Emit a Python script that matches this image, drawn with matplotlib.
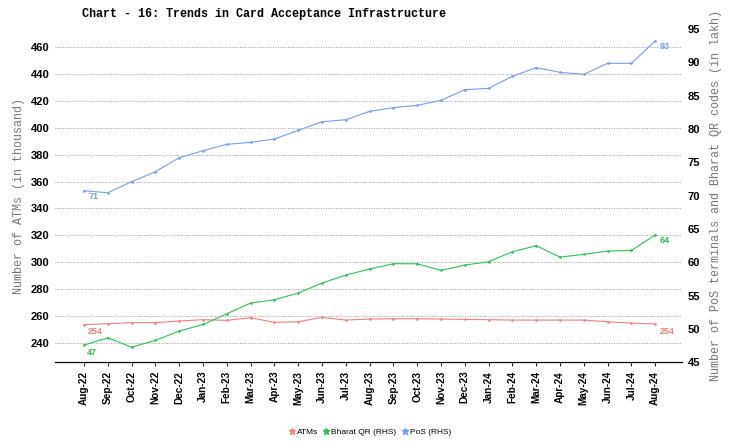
import matplotlib
matplotlib.use("Agg")
import matplotlib.pyplot as plt
from matplotlib.lines import Line2D

months = ["Aug-22", "Sep-22", "Oct-22", "Nov-22", "Dec-22", "Jan-23", "Feb-23", "Mar-23",
          "Apr-23", "May-23", "Jun-23", "Jul-23", "Aug-23", "Sep-23", "Oct-23", "Nov-23",
          "Dec-23", "Jan-24", "Feb-24", "Mar-24", "Apr-24", "May-24", "Jun-24", "Jul-24", "Aug-24"]
atms = [253.6, 254.3, 255.1, 255.1, 256.3, 257.3, 256.8, 258.8, 255.3, 255.8, 259.0, 257.0,
        257.8, 258.0, 258.0, 257.8, 257.5, 257.3, 257.0, 257.0, 257.0, 257.0, 255.8, 254.8, 254.1]
bharat_qr = [47.6, 48.7, 47.3, 48.3, 49.7, 50.7, 52.3, 53.9, 54.4, 55.4, 56.9, 58.1, 59.0,
             59.8, 59.8, 58.8, 59.6, 60.1, 61.6, 62.5, 60.8, 61.2, 61.7, 61.8, 64.1]
pos = [70.74, 70.45, 72.1, 73.6, 75.7, 76.75, 77.7, 78.0, 78.5, 79.8, 81.1, 81.4, 82.65,
       83.2, 83.55, 84.3, 85.9, 86.1, 87.9, 89.2, 88.5, 88.2, 89.85, 89.85, 93.2]

left_ticks = [240, 260, 280, 300, 320, 340, 360, 380, 400, 420, 440, 460]
right_ticks = [45, 50, 55, 60, 65, 70, 75, 80, 85, 90, 95]

c_atm = "#f47f7f"
c_qr = "#2ec150"
c_pos = "#6f9ef2"

fig = plt.figure(figsize=(7.31, 4.42), dpi=100)
ax = fig.add_axes([0.0752, 0.180, 0.8578, 0.7544])
ax2 = ax.twinx()

x = list(range(len(months)))
ax.plot(x, atms, color=c_atm, lw=0.8, marker='o', ms=0.9)
ax2.plot(x, bharat_qr, color=c_qr, lw=0.8, marker='o', ms=0.9)
ax2.plot(x, pos, color=c_pos, lw=0.8, marker='o', ms=0.9)

ax.set_xlim(-1.22, 25.13)
ax.set_ylim(225.5, 473.5)
ax2.set_ylim(45, 95)

ax.set_yticks(left_ticks)
ax2.set_yticks(right_ticks)
ax.set_xticks(x)
ax.set_xticklabels(months, rotation=90, fontsize=7.2, fontweight='bold', family='Liberation Sans')
for lab in ax.get_yticklabels():
    lab.set_fontsize(8)
    lab.set_fontweight('bold')
    lab.set_family('Liberation Sans')
for lab in ax2.get_yticklabels():
    lab.set_fontsize(8)
    lab.set_fontweight('bold')
    lab.set_family('Liberation Sans')

ax.grid(axis='y', color='#999999', lw=0.7, dashes=(1, 1.6))
ax.set_axisbelow(True)
for a in (ax, ax2):
    for s in ('top', 'left', 'right'):
        a.spines[s].set_visible(False)
ax.spines['bottom'].set_color('#333333')
ax.tick_params(axis='y', length=0, pad=4)
ax2.tick_params(axis='y', length=0, pad=4)
ax.tick_params(axis='x', length=3, color='#333333', pad=3)

ax.set_ylabel("Number of ATMs (in thousand)", family='Liberation Mono', fontsize=8.5,
              color='#777777', labelpad=4)
ax2.set_ylabel("Number of PoS terminals and Bharat QR codes (in lakh)", family='Liberation Mono',
               fontsize=8.5, color='#777777', labelpad=7)

fig.text(264 / 731, 1 - 14 / 442, "Chart - 16: Trends in Card Acceptance Infrastructure",
         family='Liberation Mono', fontweight='bold', fontsize=8.5, ha='center', va='center')

lbl = dict(fontsize=6.5, fontweight='bold', family='Liberation Sans')
ax.annotate(f"{round(atms[0])}", (x[0], atms[0]), xytext=(3, -2), textcoords='offset points',
            ha='left', va='top', color=c_atm, **lbl)
ax.annotate(f"{round(atms[-1])}", (x[-1], atms[-1]), xytext=(3, -2), textcoords='offset points',
            ha='left', va='top', color=c_atm, **lbl)
ax2.annotate(f"{int(bharat_qr[0])}", (x[0], bharat_qr[0]), xytext=(2, -2), textcoords='offset points',
             ha='left', va='top', color=c_qr, **lbl)
ax2.annotate(f"{int(bharat_qr[-1])}", (x[-1], bharat_qr[-1]), xytext=(3, -1), textcoords='offset points',
             ha='left', va='top', color=c_qr, **lbl)
ax2.annotate(f"{round(pos[0])}", (x[0], pos[0]), xytext=(3, -1), textcoords='offset points',
             ha='left', va='top', color=c_pos, **lbl)
ax2.annotate(f"{int(pos[-1])}", (x[-1], pos[-1]), xytext=(3, -1), textcoords='offset points',
             ha='left', va='top', color=c_pos, **lbl)

handles = [Line2D([], [], color=c_atm, marker='*', ls='none', ms=5),
           Line2D([], [], color=c_qr, marker='*', ls='none', ms=5),
           Line2D([], [], color=c_pos, marker='*', ls='none', ms=5)]
fig.legend(handles, ["ATMs", "Bharat QR (RHS)", "PoS (RHS)"], loc='center',
           bbox_to_anchor=(0.506, 0.023), ncol=3, frameon=False,
           prop={'family': 'Liberation Sans', 'size': 6}, handletextpad=0.2,
           columnspacing=0.6, handlelength=0.8)

fig.savefig("out.png", dpi=100)
